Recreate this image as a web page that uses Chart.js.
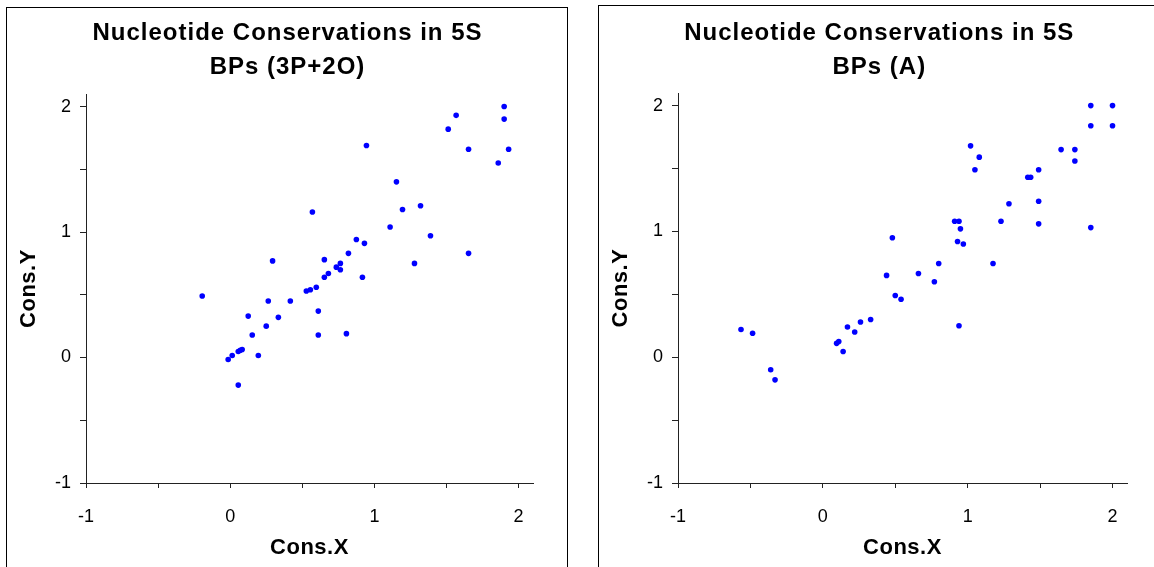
<!DOCTYPE html>
<html>
<head>
<meta charset="utf-8">
<script src="https://cdn.jsdelivr.net/npm/chart.js@4.4.1/dist/chart.umd.min.js"></script>
<style>
  html, body { margin: 0; padding: 0; background: #fff; overflow: hidden; }
  body { width: 1154px; height: 567px; position: relative; }
  .panel { position: absolute; border: 1px solid #000; box-sizing: border-box; }
  canvas { position: absolute; top: 0; }
</style>
</head>
<body>
<div class="panel" style="left:6px; top:7px; width:562px; height:620px;"></div>
<div class="panel" style="left:598px; top:5px; width:620px; height:620px;"></div>
<canvas id="leftChart" width="577" height="567" style="left:0px;"></canvas>
<canvas id="rightChart" width="577" height="567" style="left:577px;"></canvas>
<script>
// 3P+2O base pairs
const leftX = [1.90, 1.567, 1.90, 1.512, 0.945, 1.653, 1.931, 1.859, 1.153, 0.570,
  1.195, 1.320, 1.109, 1.389, 0.875, 0.931, 1.653, 0.820, 0.294, 0.653,
  0.764, 1.278, 0.736, 0.764, 0.681, 0.653, 0.917, 0.597, 0.556, 0.528,
  -0.194, 0.264, 0.417, 0.611, 0.125, 0.334, 0.250, 0.153, 0.611, 0.806,
  0.083, 0.056, 0.070, 0.195, 0.014, -0.014, 0.056];
const leftY = [2.00, 1.93, 1.90, 1.82, 1.69, 1.66, 1.66, 1.55, 1.40, 1.16,
  1.18, 1.21, 1.04, 0.97, 0.94, 0.91, 0.83, 0.83, 0.77, 0.78,
  0.75, 0.75, 0.72, 0.70, 0.67, 0.64, 0.64, 0.56, 0.54, 0.53,
  0.49, 0.45, 0.45, 0.37, 0.33, 0.32, 0.25, 0.18, 0.18, 0.19,
  0.064, 0.048, 0.058, 0.016, 0.016, -0.016, -0.22];

// A base pairs
const rightX = [1.85, 2.00, 1.85, 2.00, 1.02, 1.08, 1.05, 1.645, 1.74, 1.74,
  1.49, 1.415, 1.435, 1.49, 1.285, 1.49, 1.23, 1.85, 0.91, 0.94,
  0.95, 0.93, 0.97, 0.48, 1.175, 0.80, 0.66, 0.77, 0.44, 0.50,
  0.54, 0.94, 0.33, 0.26, 0.17, 0.22, 0.11, 0.095, 0.14, -0.565,
  -0.485, -0.36, -0.33];
const rightY = [2.00, 2.00, 1.84, 1.84, 1.68, 1.59, 1.49, 1.65, 1.65, 1.56,
  1.49, 1.43, 1.43, 1.24, 1.22, 1.06, 1.08, 1.03, 1.08, 1.08,
  1.02, 0.92, 0.90, 0.95, 0.745, 0.745, 0.665, 0.60, 0.65, 0.49,
  0.46, 0.25, 0.30, 0.28, 0.24, 0.20, 0.125, 0.11, 0.045, 0.22,
  0.19, -0.10, -0.18];

const axisMin = -1;
const axisMax = 2.1;
const tickStep = 0.5;
const xTitle = 'Cons.X';
const yTitle = 'Cons.Y';

const FONT = "'Liberation Sans', Arial, sans-serif";

function panelText(titleLines, titleX) {
  return {
    id: 'panelText',
    afterDraw(chart) {
      const ctx = chart.ctx;
      const area = chart.chartArea;
      ctx.save();
      ctx.fillStyle = '#000';
      ctx.textAlign = 'center';
      ctx.textBaseline = 'alphabetic';
      ctx.font = 'bold 24px ' + FONT;
      ctx.letterSpacing = '1px';
      ctx.fillText(titleLines[0], titleX, 40);
      ctx.fillText(titleLines[1], titleX, 74);

      ctx.font = 'bold 22px ' + FONT;
      ctx.letterSpacing = '0.5px';
      ctx.fillText(xTitle, (area.left + area.right) / 2, 554);

      ctx.translate(area.left - 51, (area.top + area.bottom) / 2);
      ctx.rotate(-Math.PI / 2);
      ctx.fillText(yTitle, 0, 0);
      ctx.restore();
    }
  };
}

function makeChart(id, xs, ys, titleLines, titleX, pad, yWidth) {
  const points = xs.map((x, i) => ({ x: x, y: ys[i] }));
  const tickLabel = v => Number.isInteger(v) ? String(v) : '';
  return new Chart(document.getElementById(id), {
    type: 'scatter',
    data: {
      datasets: [{
        data: points,
        backgroundColor: '#0000ff',
        borderWidth: 0,
        pointRadius: 2.8,
        pointHoverRadius: 2.8
      }]
    },
    options: {
      responsive: false,
      animation: false,
      events: [],
      layout: { padding: pad },
      plugins: {
        legend: { display: false },
        title: { display: false },
        tooltip: { enabled: false }
      },
      scales: {
        x: {
          type: 'linear',
          min: axisMin,
          max: axisMax,
          afterFit: s => { s.height = 84; },
          border: { display: true, color: '#222', width: 1 },
          grid: { drawOnChartArea: false, drawTicks: true, tickLength: 5, color: '#222' },
          ticks: {
            stepSize: tickStep,
            includeBounds: false,
            autoSkip: false,
            maxRotation: 0,
            padding: 18,
            color: '#000',
            font: { family: FONT, size: 18 },
            callback: tickLabel
          }
        },
        y: {
          type: 'linear',
          min: axisMin,
          max: axisMax,
          afterFit: s => { s.width = yWidth; },
          border: { display: true, color: '#222', width: 1 },
          grid: { drawOnChartArea: false, drawTicks: true, tickLength: 6, color: '#222' },
          ticks: {
            stepSize: tickStep,
            includeBounds: false,
            autoSkip: false,
            padding: 9,
            color: '#000',
            font: { family: FONT, size: 18 },
            callback: tickLabel
          }
        }
      }
    },
    plugins: [panelText(titleLines, titleX)]
  });
}

makeChart('leftChart', leftX, leftY,
  ['Nucleotide Conservations in 5S', 'BPs (3P+2O)'], 287.5,
  { left: 0, top: 94, right: 44, bottom: 0 }, 86);

makeChart('rightChart', rightX, rightY,
  ['Nucleotide Conservations in 5S', 'BPs (A)'], 302.3,
  { left: 0, top: 93, right: 27, bottom: 0 }, 101);
</script>
</body>
</html>
